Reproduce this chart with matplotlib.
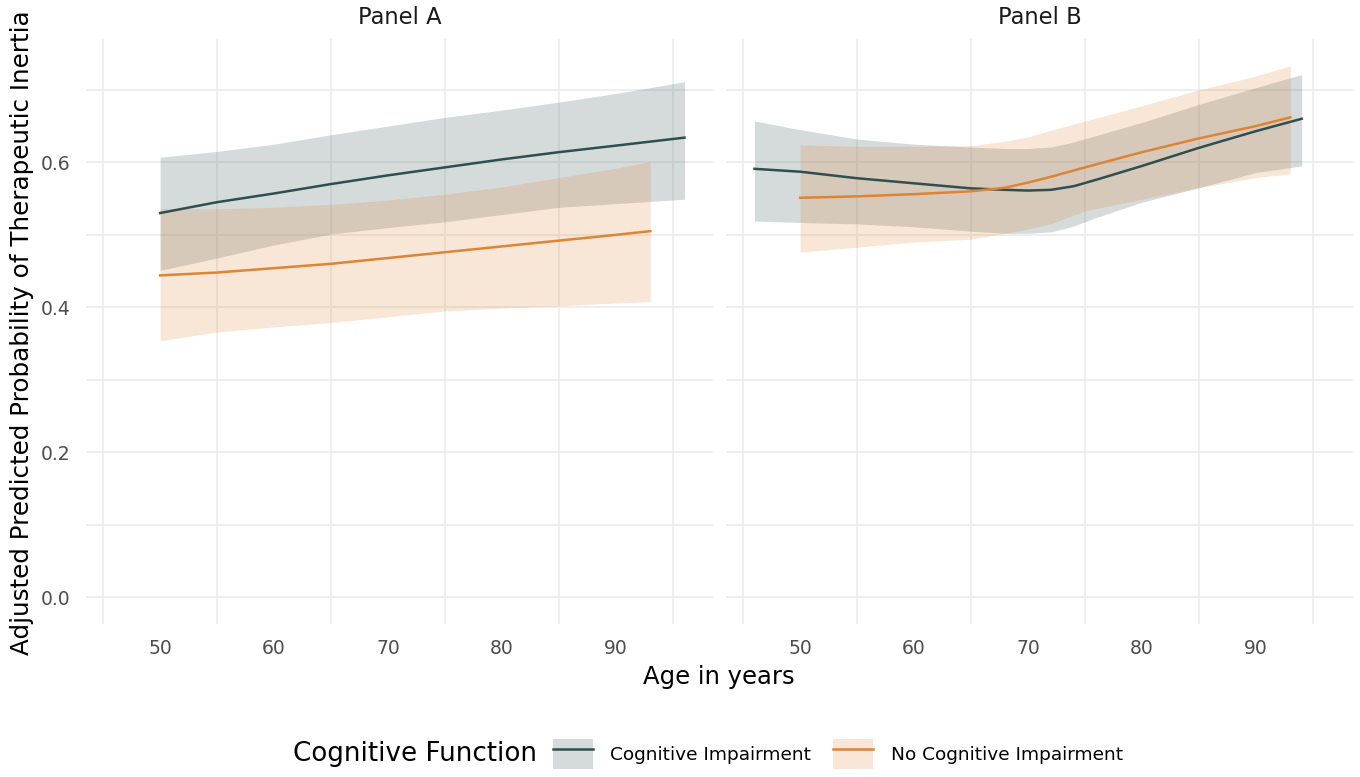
import numpy as np
import matplotlib
matplotlib.use("Agg")
import matplotlib.pyplot as plt
from matplotlib.patches import Patch
from matplotlib.lines import Line2D
from matplotlib.legend_handler import HandlerTuple

plt.rcParams['font.family'] = ['DejaVu Sans']

# Panel A: cognitive impairment
age_a_ci = [50, 55, 60, 65, 70, 75, 80, 85, 90, 96]
fit_a_ci = [0.530, 0.545, 0.557, 0.570, 0.582, 0.593, 0.604, 0.614, 0.623, 0.634]
hi_a_ci = [0.607, 0.615, 0.625, 0.638, 0.650, 0.662, 0.672, 0.683, 0.695, 0.711]
lo_a_ci = [0.451, 0.468, 0.486, 0.501, 0.510, 0.518, 0.528, 0.538, 0.543, 0.549]

# Panel A: no cognitive impairment
age_a_nci = [50, 55, 60, 65, 70, 75, 80, 85, 90, 93]
fit_a_nci = [0.444, 0.448, 0.454, 0.460, 0.468, 0.476, 0.484, 0.492, 0.500, 0.505]
hi_a_nci = [0.536, 0.536, 0.538, 0.542, 0.548, 0.556, 0.566, 0.579, 0.592, 0.601]
lo_a_nci = [0.354, 0.366, 0.373, 0.379, 0.387, 0.395, 0.399, 0.402, 0.406, 0.408]

# Panel B: cognitive impairment
age_b_ci = [46, 50, 55, 60, 65, 68, 70, 72, 74, 76, 80, 85, 90, 94]
fit_b_ci = [0.591, 0.587, 0.578, 0.571, 0.564, 0.562, 0.561, 0.562, 0.567, 0.576, 0.595, 0.620, 0.643, 0.660]
hi_b_ci = [0.657, 0.645, 0.632, 0.625, 0.621, 0.619, 0.619, 0.621, 0.628, 0.637, 0.655, 0.680, 0.703, 0.721]
lo_b_ci = [0.519, 0.517, 0.515, 0.511, 0.505, 0.502, 0.502, 0.504, 0.512, 0.524, 0.545, 0.565, 0.586, 0.595]

# Panel B: no cognitive impairment
age_b_nci = [50, 55, 60, 65, 68, 70, 72, 75, 80, 85, 90, 93]
fit_b_nci = [0.551, 0.553, 0.556, 0.560, 0.565, 0.572, 0.580, 0.593, 0.614, 0.633, 0.650, 0.662]
hi_b_nci = [0.624, 0.622, 0.622, 0.623, 0.629, 0.635, 0.644, 0.657, 0.678, 0.700, 0.719, 0.733]
lo_b_nci = [0.476, 0.483, 0.490, 0.494, 0.502, 0.508, 0.515, 0.533, 0.549, 0.565, 0.579, 0.584]

groups = ["Cognitive Impairment", "No Cognitive Impairment"]
colors = ["#2F4F4F", "#DD8435"]
panels = ["Panel A", "Panel B"]
x_ticks = [50, 60, 70, 80, 90]
y_ticks = [0.0, 0.2, 0.4, 0.6]

W, H = 1360, 777
fig = plt.figure(figsize=(W / 100, H / 100), dpi=100)

def px_box(x0, y0, x1, y1):
    # pixel box (top-left origin) -> figure fraction rect
    return [x0 / W, 1 - y1 / H, (x1 - x0) / W, (y1 - y0) / H]

ax_a = fig.add_axes(px_box(86, 39, 713, 624))
ax_b = fig.add_axes(px_box(726, 39, 1353, 624))

def style(ax, show_y):
    ax.set_xlim(43.5, 98.5)
    ax.set_ylim(-0.0367, 0.770)
    for s in ax.spines.values():
        s.set_visible(False)
    ax.set_xticks(x_ticks)
    ax.set_xticks(np.arange(45, 100, 10), minor=True)
    ax.set_yticks(y_ticks)
    ax.set_yticks([0.1, 0.3, 0.5, 0.7], minor=True)
    ax.grid(False)
    ax.grid(True, axis='x', which='minor', color='#EBEBEB', lw=1.1)
    ax.grid(True, axis='y', which='both', color='#EBEBEB', lw=1.2)
    ax.set_axisbelow(True)
    ax.tick_params(which='both', length=0, labelsize=13.5, labelcolor='#4D4D4D', pad=11)
    ax.set_xticklabels([str(t) for t in x_ticks])
    if show_y:
        ax.set_yticklabels(["%.1f" % t for t in y_ticks])
    else:
        ax.set_yticklabels([])

def draw(ax, age, fit, lo, hi, color):
    ax.fill_between(age, lo, hi, color=color, alpha=0.2, lw=0)

style(ax_a, True)
style(ax_b, False)

draw(ax_a, age_a_ci, fit_a_ci, lo_a_ci, hi_a_ci, colors[0])
draw(ax_a, age_a_nci, fit_a_nci, lo_a_nci, hi_a_nci, colors[1])
ax_a.plot(age_a_ci, fit_a_ci, color=colors[0], lw=1.8)
ax_a.plot(age_a_nci, fit_a_nci, color=colors[1], lw=1.8)

draw(ax_b, age_b_ci, fit_b_ci, lo_b_ci, hi_b_ci, colors[0])
draw(ax_b, age_b_nci, fit_b_nci, lo_b_nci, hi_b_nci, colors[1])
ax_b.plot(age_b_ci, fit_b_ci, color=colors[0], lw=1.8)
ax_b.plot(age_b_nci, fit_b_nci, color=colors[1], lw=1.8)

# strip labels
fig.text(399.5 / W, 1 - 18 / H, panels[0], ha='center', va='center', fontsize=16.3, color='#1A1A1A')
fig.text(1039.5 / W, 1 - 18 / H, panels[1], ha='center', va='center', fontsize=16.3, color='#1A1A1A')

fig.text(22 / W, 1 - 333 / H, "Adjusted Predicted Probability of Therapeutic Inertia",
         rotation=90, ha='center', va='center', fontsize=17.7)
fig.text(719 / W, 1 - 677 / H, "Age in years", ha='center', va='center', fontsize=17.5)

# legend
fig.text(293 / W, 1 - 754 / H, "Cognitive Function", ha='left', va='center', fontsize=18.8)
handles = [(Patch(facecolor=c, alpha=0.2, lw=0), Line2D([], [], color=c, lw=1.8)) for c in colors]
fig.legend(handles, groups, ncol=2, loc='center left', bbox_to_anchor=(553 / W, 1 - 754 / H),
           frameon=False, fontsize=13.3, handlelength=2.15, handleheight=2.15,
           handletextpad=0.95, columnspacing=1.2, borderpad=0, borderaxespad=0,
           handler_map={tuple: HandlerTuple(ndivide=1)})

fig.savefig("out.png", dpi=100)
